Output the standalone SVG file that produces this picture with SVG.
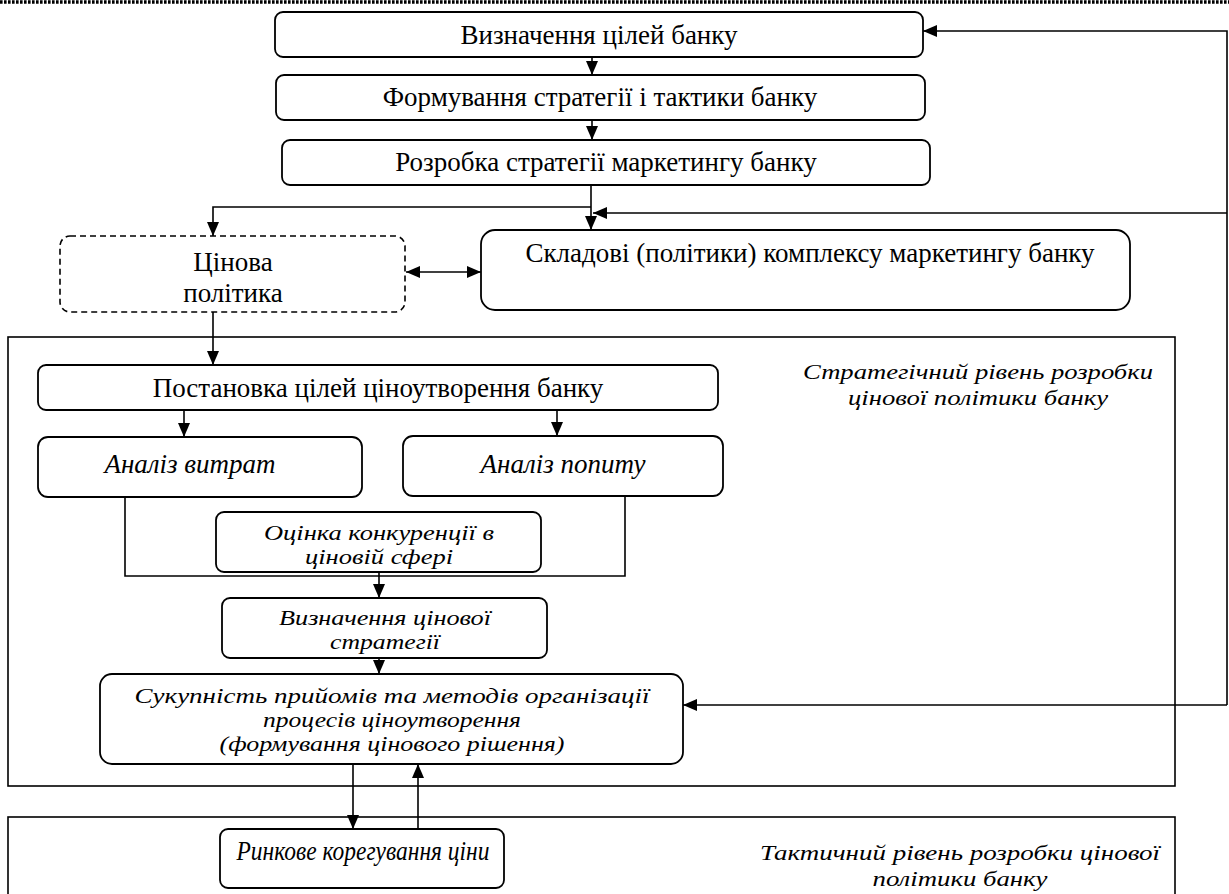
<svg xmlns="http://www.w3.org/2000/svg" width="1229" height="894" viewBox="0 0 1229 894">
<defs>
<marker id="ah" viewBox="0 0 14 12" refX="14" refY="6" markerWidth="14" markerHeight="12" markerUnits="userSpaceOnUse" orient="auto-start-reverse">
<path d="M0,0 L14,6 L0,12 z" fill="#000"/>
</marker>
<style>
.box{fill:#fff;stroke:#000;stroke-width:1.8}
.dash{fill:#fff;stroke:#000;stroke-width:1.6;stroke-dasharray:6 4}
.frame{fill:none;stroke:#000;stroke-width:1.6}
.ln{fill:none;stroke:#000;stroke-width:1.6}
.ar{fill:none;stroke:#000;stroke-width:1.6;marker-end:url(#ah)}
.t{font-family:'Liberation Serif','Times New Roman',serif;font-size:27px;fill:#000;text-anchor:middle}
.s{font-size:22px}
.i{font-style:italic}
</style>
</defs>
<rect width="1229" height="894" fill="#fff"/>
<line x1="0" y1="2" x2="1229" y2="2" stroke="#000" stroke-width="3.5" stroke-dasharray="2.6 1.4"/>

<g id="frame-strategic">
<rect class="frame" x="8" y="337" width="1167" height="449"/>
<text class="t s i" x="978" y="379" textLength="350" lengthAdjust="spacingAndGlyphs">Стратегічний рівень розробки</text>
<text class="t s i" x="978" y="405" textLength="260" lengthAdjust="spacingAndGlyphs">цінової політики банку</text>
</g>
<g id="frame-tactical">
<rect class="frame" x="8" y="817" width="1167" height="90"/>
<text class="t s i" x="960" y="860" textLength="400" lengthAdjust="spacingAndGlyphs">Тактичний рівень розробки цінової</text>
<text class="t s i" x="960" y="886" textLength="175" lengthAdjust="spacingAndGlyphs">політики банку</text>
</g>

<g id="n1"><rect class="box" x="275" y="12" width="648" height="45" rx="8"/>
<text class="t" x="599" y="44">Визначення цілей банку</text></g>
<g id="n2"><rect class="box" x="276" y="75" width="649" height="45" rx="8"/>
<text class="t" x="600" y="106">Формування стратегії і тактики банку</text></g>
<g id="n3"><rect class="box" x="282" y="140" width="648" height="45" rx="8"/>
<text class="t" x="606" y="171">Розробка стратегії маркетингу банку</text></g>
<g id="n4"><rect class="dash" x="60" y="236" width="345" height="76" rx="10"/>
<text class="t" x="233" y="271">Цінова</text>
<text class="t" x="233" y="302">політика</text></g>
<g id="n5"><rect class="box" x="481" y="230" width="649" height="80" rx="14"/>
<text class="t" x="810" y="262">Складові (політики) комплексу маркетингу банку</text></g>
<g id="n6"><rect class="box" x="38" y="365" width="680" height="45" rx="8"/>
<text class="t" x="378" y="397">Постановка цілей ціноутворення банку</text></g>
<g id="n7"><rect class="box" x="38" y="437" width="324" height="60" rx="10"/>
<text class="t i" x="190" y="473">Аналіз витрат</text></g>
<g id="n8"><rect class="box" x="403" y="436" width="320" height="60" rx="10"/>
<text class="t i" x="563" y="473">Аналіз попиту</text></g>
<g id="n9"><rect class="box" x="216" y="512" width="325" height="60" rx="8"/>
<text class="t s i" x="379" y="540" textLength="230" lengthAdjust="spacingAndGlyphs">Оцінка конкуренції в</text>
<text class="t s i" x="379" y="564" textLength="148" lengthAdjust="spacingAndGlyphs">ціновій сфері</text></g>
<g id="n10"><rect class="box" x="222" y="598" width="325" height="60" rx="8"/>
<text class="t s i" x="385" y="625" textLength="212" lengthAdjust="spacingAndGlyphs">Визначення цінової</text>
<text class="t s i" x="385" y="649" textLength="110" lengthAdjust="spacingAndGlyphs">стратегії</text></g>
<g id="n11"><rect class="box" x="100" y="674" width="583" height="90" rx="12"/>
<text class="t s i" x="392" y="703" textLength="515" lengthAdjust="spacingAndGlyphs">Сукупність прийомів та методів організації</text>
<text class="t s i" x="392" y="727" textLength="258" lengthAdjust="spacingAndGlyphs">процесів ціноутворення</text>
<text class="t s i" x="392" y="751" textLength="345" lengthAdjust="spacingAndGlyphs">(формування цінового рішення)</text></g>
<g id="n12"><rect class="box" x="220" y="829" width="284" height="59" rx="8"/>
<text class="t i" x="363" y="860" textLength="253" lengthAdjust="spacingAndGlyphs">Ринкове корегування ціни</text></g>

<g id="connectors">
<line class="ar" x1="592" y1="57" x2="592" y2="75"/>
<line class="ar" x1="592" y1="120" x2="592" y2="140"/>
<line class="ar" x1="591" y1="185" x2="591" y2="230"/>
<polyline class="ar" points="591,207 213,207 213,236"/>
<polyline class="ar" points="1227,705 1227,31 923,31"/>
<line class="ar" x1="1227" y1="213" x2="593" y2="213"/>
<line class="ar" x1="1227" y1="705" x2="683" y2="705"/>
<line class="ar" x1="406" y1="272" x2="481" y2="272" style="marker-start:url(#ah)"/>
<line class="ar" x1="213" y1="312" x2="213" y2="365"/>
<line class="ar" x1="184" y1="410" x2="184" y2="437"/>
<line class="ar" x1="557" y1="410" x2="557" y2="436"/>
<polyline class="ln" points="125,497 125,576 625,576 625,496"/>
<line class="ar" x1="379" y1="572" x2="379" y2="598"/>
<line class="ar" x1="379" y1="658" x2="379" y2="674"/>
<line class="ar" x1="353" y1="764" x2="353" y2="829"/>
<line class="ar" x1="418" y1="829" x2="418" y2="764"/>
</g>
</svg>
